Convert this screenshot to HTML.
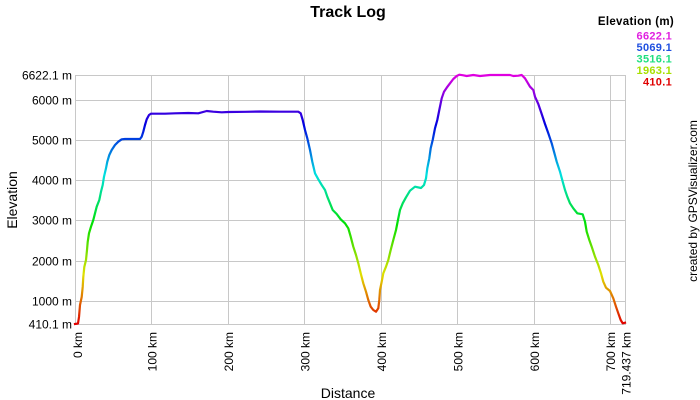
<!DOCTYPE html>
<html>
<head>
<meta charset="utf-8">
<style>
  html, body { margin:0; padding:0; background:#fff; }
  svg { display:block; }
  text { font-family: "Liberation Sans", Arial, sans-serif; fill:#000; }
</style>
</head>
<body>
<svg width="700" height="400" viewBox="0 0 700 400" xmlns="http://www.w3.org/2000/svg">
  <defs>
    <linearGradient id="elev" gradientUnits="userSpaceOnUse" x1="0" y1="324" x2="0" y2="75">
      <stop offset="0" stop-color="#e00000"/>
      <stop offset="0.2" stop-color="#e0e000"/>
      <stop offset="0.4" stop-color="#00e000"/>
      <stop offset="0.6" stop-color="#00e0e0"/>
      <stop offset="0.8" stop-color="#0000e0"/>
      <stop offset="1" stop-color="#e000e0"/>
    </linearGradient>
  </defs>
  <rect width="700" height="400" fill="#fff"/>

  <!-- grid -->
  <g stroke="#c8c8c8" stroke-width="1" fill="none" shape-rendering="crispEdges">
    <line x1="75" y1="75.5" x2="625" y2="75.5"/>
    <line x1="75" y1="100.5" x2="625" y2="100.5"/>
    <line x1="75" y1="140.5" x2="625" y2="140.5"/>
    <line x1="75" y1="180.5" x2="625" y2="180.5"/>
    <line x1="75" y1="220.5" x2="625" y2="220.5"/>
    <line x1="75" y1="261.5" x2="625" y2="261.5"/>
    <line x1="75" y1="301.5" x2="625" y2="301.5"/>
    <line x1="75" y1="324.5" x2="625" y2="324.5"/>
    <line x1="75.5" y1="75" x2="75.5" y2="325"/>
    <line x1="151.5" y1="75" x2="151.5" y2="325"/>
    <line x1="228.5" y1="75" x2="228.5" y2="325"/>
    <line x1="304.5" y1="75" x2="304.5" y2="325"/>
    <line x1="381.5" y1="75" x2="381.5" y2="325"/>
    <line x1="457.5" y1="75" x2="457.5" y2="325"/>
    <line x1="534.5" y1="75" x2="534.5" y2="325"/>
    <line x1="610.5" y1="75" x2="610.5" y2="325"/>
    <line x1="625.5" y1="75" x2="625.5" y2="325"/>
  </g>

  <!-- elevation curve -->
  <polyline fill="none" stroke="url(#elev)" stroke-width="2.2" stroke-linejoin="round" stroke-linecap="square"
    points="75,324 78,323.5 79,317 80,305 81.7,297 82.7,287 83.3,277 84.3,267 86,260 87,250 87.7,242 89,233.3 91,226.7 93.3,220 95,213.3 96.7,206.7 99.3,200 101,191.7 102.7,185 104,176.7 106,168.3 107.3,161.7 109.3,155 111.7,150 115,145 118.3,141.7 121.7,139.3 125,139 140,139 141.7,136.7 143.3,131.7 145,125 146.7,119.3 149,115 151,113.7 165,113.7 175,113.3 188.3,113 198.3,113.3 206.7,111 213.3,111.7 221.7,112.3 228.3,112 245,111.8 260,111.5 280,111.7 298.3,111.7 300.7,113.3 302.7,120 305,130 307.3,138.3 310,150 312.3,161.7 315,173.3 318.3,179.3 321.7,185 325,190 327.3,196.7 330,203.3 332.7,210 336.7,214 340.7,219.3 345,223.3 348.3,228.3 350.7,236.7 353.3,246.7 356,255 358.3,263.3 360.7,273.3 363.3,283.3 366,291.7 368.3,300 370.7,306.7 373.3,310 376,311.7 378.3,308.3 379.3,300 380,290 381.7,281.7 383.3,273.3 386,266.7 388.3,260 390.7,250 393.3,240 396,230 398.3,218.3 400,210 402.7,203.3 406,197.3 410,190.7 415,186.7 421,188 424,185 426,178.3 427.3,168.3 429.3,158.3 430.7,148.3 432.7,140 435,128.3 437.3,120 439.3,110 441.7,98.3 444,91.7 446.7,87.7 450,83.3 453.3,79 456.7,76 459.3,74.7 463.3,75.3 466.7,76 473.3,75 480,76 490,75 510,75 513.3,76 518.3,75.7 521.7,75 525,78.3 530,86.7 533.3,90 535,96.7 538.3,104 541.7,114 545,124 548.3,133.3 551.7,143.3 554,151.7 556.7,161.7 560,171.7 562.7,181.7 565,190 567.3,196.7 570,203.3 573.3,208.3 577.3,213.3 582.7,214.3 585,221.7 586.7,231.7 589.3,240 591.7,246.7 595,256.7 598.3,265 601,273.3 603.3,281.7 606,287.7 610,291 613.3,298.3 616,306.7 618.3,313.3 620.7,320 622.7,323.3 625,322.7"/>

  <!-- title -->
  <text x="348" y="17" font-size="16" font-weight="bold" text-anchor="middle">Track Log</text>

  <!-- y tick labels -->
  <g font-size="12" text-anchor="end">
    <text x="72" y="79.5">6622.1 m</text>
    <text x="72" y="104.5">6000 m</text>
    <text x="72" y="144.5">5000 m</text>
    <text x="72" y="184.5">4000 m</text>
    <text x="72" y="224.5">3000 m</text>
    <text x="72" y="265.5">2000 m</text>
    <text x="72" y="305.5">1000 m</text>
    <text x="72" y="328.5">410.1 m</text>
  </g>

  <!-- x tick labels (rotated) -->
  <g font-size="12" text-anchor="end">
    <text transform="translate(82,332) rotate(-90)">0 km</text>
    <text transform="translate(156.5,332) rotate(-90)">100 km</text>
    <text transform="translate(233,332) rotate(-90)">200 km</text>
    <text transform="translate(309.5,332) rotate(-90)">300 km</text>
    <text transform="translate(386,332) rotate(-90)">400 km</text>
    <text transform="translate(462.5,332) rotate(-90)">500 km</text>
    <text transform="translate(539,332) rotate(-90)">600 km</text>
    <text transform="translate(615,332) rotate(-90)">700 km</text>
    <text transform="translate(630.5,332) rotate(-90)">719.437 km</text>
  </g>

  <!-- axis titles -->
  <text x="348" y="398" font-size="14" text-anchor="middle">Distance</text>
  <text transform="translate(17,200) rotate(-90)" font-size="14" text-anchor="middle">Elevation</text>
  <text transform="translate(697,201) rotate(-90)" font-size="12" text-anchor="middle">created by GPSVisualizer.com</text>

  <!-- legend -->
  <text x="674" y="25" font-size="11.5" font-weight="bold" text-anchor="end" letter-spacing="0.3">Elevation (m)</text>
  <g font-size="11" font-weight="bold" text-anchor="end" letter-spacing="0.3">
    <text x="672" y="39.5" style="fill:#e020e0">6622.1</text>
    <text x="672" y="51" style="fill:#2050e0">5069.1</text>
    <text x="672" y="62.5" style="fill:#20e080">3516.1</text>
    <text x="672" y="74" style="fill:#a8e000">1963.1</text>
    <text x="672" y="85.5" style="fill:#e00000">410.1</text>
  </g>
</svg>
</body>
</html>
